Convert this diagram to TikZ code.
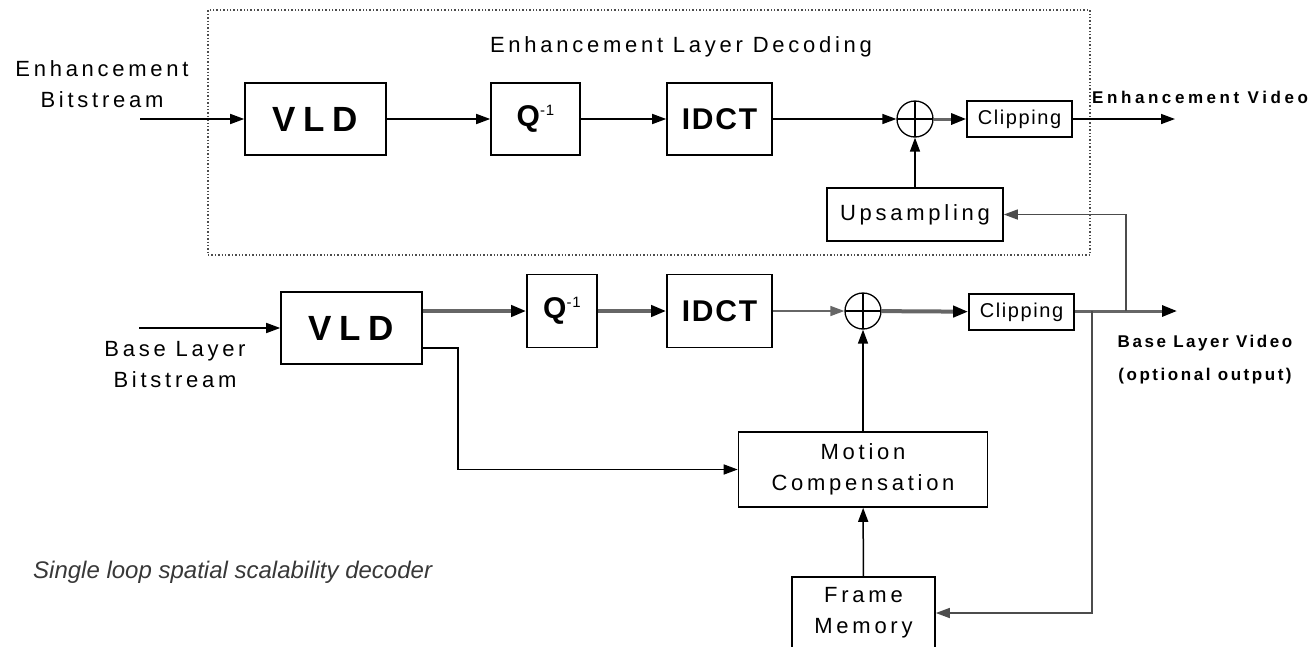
\documentclass[tikz,border=0pt]{standalone}
\usepackage{fontspec}
\setmainfont{Liberation Sans}
\newfontfamily\lab[LetterSpace=17]{Liberation Sans}
\newfontfamily\labclip[LetterSpace=8]{Liberation Sans}
\newfontfamily\labbig[LetterSpace=22]{Liberation Sans}
\newfontfamily\labmid[LetterSpace=6]{Liberation Sans}
\newfontfamily\labout[LetterSpace=15]{Liberation Sans}
\newfontfamily\laboutw[LetterSpace=21]{Liberation Sans}
\usetikzlibrary{arrows.meta}
\begin{document}
\begin{tikzpicture}[x=1pt,y=-1pt,
  box/.style={draw, line width=1.6pt, inner sep=0pt, align=center,
    font=\lab\fontsize{22}{31}\selectfont},
  big/.style={box, font=\labbig\bfseries\fontsize{35}{38}\selectfont},
  mid/.style={box, font=\labmid\bfseries\fontsize{30}{34}\selectfont},
  clipbox/.style={box, minimum width=105pt, minimum height=36pt, font=\labclip\fontsize{20}{22}\selectfont},
  sumnode/.style={draw, circle, line width=1.3pt, minimum size=36pt, inner sep=0pt,
    path picture={\draw[line width=1.3pt] (path picture bounding box.north) -- (path picture bounding box.south)
      (path picture bounding box.west) -- (path picture bounding box.east);}},
  lbl/.style={align=center, inner sep=0pt, font=\lab\fontsize{22}{31}\selectfont},
  outlbl/.style={align=center, inner sep=0pt, font=\labout\bfseries\fontsize{17}{33}\selectfont},
  arr/.style={line width=1.5pt, -{Triangle[length=14pt,width=10pt]}},
  thickarr/.style={line width=4pt, draw=black!60, -{Triangle[length=15pt,width=11pt,color=black]}},
]
\useasboundingbox (0,0) rectangle (1315,646);
\clip (0,0) rectangle (1315,646);

% enhancement layer frame
\node[draw=black!70, dotted, line width=1.4pt, minimum width=882pt, minimum height=245pt, inner sep=0pt] (frame) at (649,132.5) {};
\node[lbl] (title) at (681,47) {Enhancement Layer Decoding};

% enhancement layer
\node[big, minimum width=141pt, minimum height=72pt] (evld) at (315.5,119) {VLD};
\node[mid, minimum width=89pt, minimum height=72pt] (eq) at (535.5,119) {Q\raisebox{11pt}{\fontsize{15}{15}\selectfont\mdseries -1}};
\node[mid, minimum width=105pt, minimum height=72pt] (eidct) at (719.5,119) {IDCT};
\node[sumnode] (esum) at (915,119) {};
\node[clipbox] (eclip) at (1019.5,119) {Clipping};
\node[box, minimum width=176pt, minimum height=53pt] (ups) at (915,214.5) {Upsampling};
\coordinate (ein) at (140,119);
\coordinate (eout) at (1175,119);
\node[lbl] (elab) at (102,84) {Enhancement\\Bitstream};
\node[outlbl, anchor=west, font=\laboutw\bfseries\fontsize{17}{20}\selectfont] (evidlab) at (1092,97) {Enhancement Video};

\draw[arr] (ein) -- (evld);
\draw[arr] (evld) -- (eq);
\draw[arr] (eq) -- (eidct);
\draw[arr] (eidct) -- (esum);
\draw[thickarr, line width=3pt] (esum) -- (eclip);
\draw[arr] (eclip) -- (eout);
\draw[arr] (ups) -- (esum);

% base layer
\node[big, minimum width=141pt, minimum height=72pt] (bvld) at (351.5,328) {VLD};
\node[mid, minimum width=70pt, minimum height=73pt] (bq) at (562,311) {Q\raisebox{11pt}{\fontsize{15}{15}\selectfont\mdseries -1}};
\node[mid, minimum width=105pt, minimum height=73pt] (bidct) at (719.5,311) {IDCT};
\node[sumnode] (bsum) at (863,311) {};
\node[clipbox] (bclip) at (1021.5,312) {Clipping};
\node[box, minimum width=249pt, minimum height=75pt] (mc) at (863,469.5) {Motion\\Compensation};
\node[box, minimum width=143pt, minimum height=72pt] (fm) at (863.5,613) {Frame\\Memory};
\coordinate (bin) at (139,328);
\coordinate (bout) at (1177,311);
\coordinate (t1) at (1126,311);
\coordinate (t2) at (1092,311);
\node[lbl] (blab) at (175,365) {Base Layer\\Bitstream};
\node[outlbl] (bvidlab) at (1205,360) {Base Layer Video\\(optional output)};

\draw[arr] (bin) -- (bvld);
\draw[thickarr] (bvld.east |- bq) -- (bq);
\draw[thickarr] (bq) -- (bidct);
\draw[arr, draw=black!60] (bidct) -- (bsum);
\draw[thickarr] (bsum) -- (bclip);
\draw[thickarr, line width=3pt] (bclip.east |- bout) -- (bout);
\draw[arr] ([yshift=17pt]bvld.south east) -- ++(35,0) |- (mc.west);
\draw[arr] (mc) -- (bsum);
\draw[arr] (fm) -- (mc);
\draw[arr, draw=black!70] (t1) |- (ups.east);
\draw[arr, draw=black!70] (t2) |- (fm.east);

% caption
\node[anchor=west, inner sep=0pt, text=black!78, font=\fontsize{24}{28}\selectfont\itshape] (cap) at (33,572) {Single loop spatial scalability decoder};
\end{tikzpicture}
\end{document}
